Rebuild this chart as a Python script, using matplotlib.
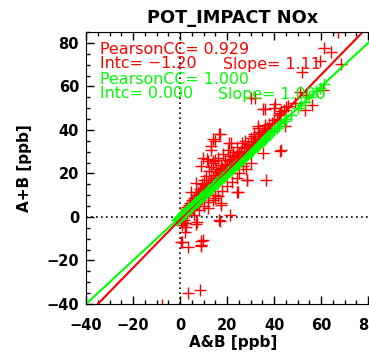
import numpy as np
import matplotlib
matplotlib.use('Agg')
import matplotlib.pyplot as plt

# red: A+B vs A&B
red_pts = [
    # outliers top right
    (67.0, 85.0), (61.3, 77.5), (64.3, 75.7), (59.7, 71.7), (68.4, 70.2),
    (52.0, 66.8), (60.9, 58.5), (51.0, 57.4), (53.6, 55.9), (55.9, 51.3),
    (53.3, 49.1), (48.8, 52.5), (42.4, 48.0), (40.3, 51.7), (36.0, 49.4),
    (30.2, 54.5), (32.0, 54.5), (40.0, 49.9), (35.3, 49.4), (44.5, 42.0),
    # upper-left scatter
    (16.6, 38.2), (16.9, 37.9), (14.0, 36.0), (14.8, 34.8), (13.0, 32.5),
    (13.3, 31.0), (20.9, 34.0), (33.2, 41.0), (34.9, 38.2), (36.2, 42.2),
    (38.2, 39.4), (33.2, 41.7), (31.5, 37.9), (21.8, 34.0), (11.6, 26.8),
    (14.8, 26.3), (9.1, 23.2), (9.8, 27.1), (11.9, 25.5), (14.0, 25.5),
    (6.8, 15.7), (4.8, 11.7), (9.8, 11.0),
    # right-hand scatter below the line
    (42.4, 30.2), (42.7, 30.6), (35.3, 29.4), (28.6, 17.1), (28.5, 17.1),
    (36.5, 17.1), (24.4, 11.4), (24.7, 11.7), (24.0, 17.9), (26.8, 23.2),
    (14.8, 8.6), (11.9, 4.0), (17.6, 6.3), (17.6, 5.5), (21.1, 0.9),
    (16.9, -1.7), (16.6, -1.4), (6.9, -3.2), (7.0, -2.2), (2.0, -2.9),
    (2.0, -2.6), (1.0, -2.2),
    # below zero
    (2.0, -6.8), (0.9, -11.4), (0.6, -11.4), (3.4, -13.7), (9.1, -10.9),
    (8.8, -13.4), (9.1, -12.9), (9.8, -10.6), (3.4, -35.0), (8.4, -33.4),
    (-7.7, -40.6),
    # main cluster
    (0.5, 0.2), (1.0, -0.5), (1.2, 1.5), (1.5, 0.8), (2.0, 2.5), (2.2, 1.0),
    (2.5, 3.8), (3.0, 2.0), (3.0, 4.5), (3.5, 3.0), (3.8, 5.5), (4.0, 2.8),
    (4.2, 6.5), (4.5, 4.0), (5.0, 5.5), (5.0, 7.8), (5.3, 3.5), (5.6, 6.2),
    (6.0, 8.5), (6.0, 4.8), (6.4, 7.0), (6.8, 10.0), (7.0, 6.0), (7.2, 8.2),
    (7.5, 11.5), (7.8, 7.0), (8.0, 9.5), (8.3, 13.0), (8.5, 8.0), (8.8, 10.5),
    (9.0, 12.0), (9.2, 15.0), (9.5, 9.0), (9.8, 11.5), (10.0, 13.5), (10.2, 17.0),
    (10.5, 10.0), (10.8, 12.5), (11.0, 14.5), (11.2, 19.0), (11.5, 11.5),
    (11.8, 13.8), (12.0, 15.5), (12.3, 21.0), (12.5, 12.0), (12.8, 14.5),
    (13.0, 17.0), (13.2, 23.0), (13.5, 13.5), (13.8, 16.0), (14.0, 18.0),
    (14.2, 25.0), (14.5, 15.0), (14.8, 17.0), (15.0, 19.5), (15.3, 22.0),
    (15.5, 16.0), (15.8, 18.0), (16.0, 20.5), (16.3, 27.0), (16.5, 17.5),
    (16.8, 19.5), (17.0, 21.5), (17.3, 24.0), (17.5, 18.0), (17.8, 20.5),
    (18.0, 22.5), (18.3, 29.0), (18.5, 19.5), (18.8, 21.5), (19.0, 23.5),
    (19.3, 26.0), (19.5, 20.5), (19.8, 22.5), (20.0, 24.5), (20.3, 31.0),
    (20.5, 21.5), (20.8, 23.5), (21.0, 25.5), (21.3, 28.0), (21.5, 22.5),
    (21.8, 24.5), (22.0, 26.5), (22.3, 30.0), (22.5, 23.5), (22.8, 25.5),
    (23.0, 27.5), (23.5, 24.5), (23.8, 26.5), (24.0, 28.5), (24.3, 32.0),
    (24.5, 25.5), (24.8, 27.5), (25.0, 29.5), (25.5, 26.5), (25.8, 28.5),
    (26.0, 30.5), (26.3, 34.0), (26.5, 27.5), (27.0, 29.5), (27.3, 31.5),
    (27.8, 35.0), (28.0, 30.0), (28.5, 32.0), (29.0, 33.5), (29.5, 30.0),
    (30.0, 33.0), (30.3, 36.5), (30.8, 32.0), (31.0, 34.5), (31.5, 37.0),
    (32.0, 35.0), (32.5, 33.0), (33.0, 36.5), (33.5, 39.0), (34.0, 37.0),
    (34.5, 35.0), (35.0, 38.5), (35.5, 40.0), (36.0, 39.0), (37.0, 41.0),
    (37.5, 39.5), (38.0, 42.5), (39.0, 43.0), (40.0, 44.5), (41.0, 45.0),
    (42.0, 47.0), (43.0, 48.5), (44.0, 49.0), (45.0, 50.5), (46.0, 51.0),
    (10.0, 5.0), (12.0, 7.0), (8.0, 3.0), (6.0, 1.0), (15.0, 10.0),
    (18.0, 12.0), (20.0, 14.0), (22.0, 16.0), (25.0, 20.0), (28.0, 22.0),
    (30.0, 25.0), (14.0, 8.0), (16.0, 9.5), (0.3, -2.0), (0.8, -3.5),
    (1.5, -1.5), (2.5, -4.5),
]
red_x = [p[0] for p in red_pts]
red_y = [p[1] for p in red_pts]

# green: A&B vs itself
green_x = [-1.5, -1.0, -0.5, 0.0, 0.3, 0.6, 1.0, 1.5, 2.0, 2.5, 3.0, 3.5,
           4.0, 4.5, 5.0, 5.5, 6.0, 6.5, 7.0, 7.5, 8.0, 8.5, 9.0, 9.5,
           10.0, 10.5, 11.0, 11.5, 12.0, 12.5, 13.0, 13.5, 14.0, 14.5,
           15.0, 15.5, 16.0, 16.5, 17.0, 17.5, 18.0, 18.5, 19.0, 19.5,
           20.0, 20.5, 21.0, 21.5, 22.0, 22.5, 23.0, 23.5, 24.0, 24.5,
           25.0, 25.5, 26.0, 26.5, 27.0, 27.5, 28.0, 28.5, 29.0, 29.5,
           30.0, 30.5, 31.0, 31.5, 32.0, 32.5, 33.0, 33.5, 34.0, 34.5,
           35.0, 35.5, 36.0, 36.5, 37.0, 37.5, 38.0, 39.0, 40.0, 41.0,
           42.0, 43.0, 44.0, 45.0, 47.0, 50.0, 51.5, 53.0, 55.0, 58.0,
           59.4, 61.0]
green_y = green_x

red_cc, red_intc, red_slope = 0.929, -1.20, 1.11
green_cc, green_intc, green_slope = 1.000, 0.000, 1.000

RED = '#ff0000'
GREEN = '#00ff00'

fig = plt.figure(figsize=(3.69, 3.53), dpi=100)
W, H = 369.0, 353.0
ax = fig.add_axes([86 / W, 1 - 304 / H, 294 / W, 272 / H])
ax.set_xlim(-40, 85)
ax.set_ylim(-40, 85)

ax.axvline(0, color='k', ls=(0, (1, 2)), lw=1.2)
ax.axhline(0, color='k', ls=(0, (1, 2)), lw=1.2)

ax.plot(red_x, red_y, '+', color=RED, ms=8, mew=1.0)
ax.plot(green_x, green_y, '+', color=GREEN, ms=8, mew=1.0)

xx = np.array([-40, 85])
ax.plot(xx, red_intc + red_slope * xx, color=RED, lw=1.5)
ax.plot(xx, green_intc + green_slope * xx, color=GREEN, lw=1.5)

ax.set_xticks([-40, -20, 0, 20, 40, 60, 80])
ax.set_yticks([-40, -20, 0, 20, 40, 60, 80])
ax.set_xticks(np.arange(-40, 86, 5), minor=True)
ax.set_yticks(np.arange(-40, 86, 5), minor=True)
ax.tick_params(which='both', direction='in', top=True, right=True, width=1)
ax.tick_params(which='major', length=6)
ax.tick_params(which='minor', length=3)
ax.tick_params(axis='x', pad=10)
ax.tick_params(axis='y', pad=5)
for lab in ax.get_xticklabels() + ax.get_yticklabels():
    lab.set_fontweight('bold')
    lab.set_fontsize(10.5)

fig.text(233 / W, 1 - 18 / H, 'POT_IMPACT NOx', ha='center', va='center',
         fontsize=12.8, fontweight='bold')
fig.text(233 / W, 1 - 343 / H, 'A&B [ppb]', ha='center', va='center',
         fontsize=11, fontweight='bold')
fig.text(25 / W, 1 - 168 / H, 'A+B [ppb]', ha='center', va='center',
         fontsize=11, fontweight='bold', rotation=90)

fs = 11.4
fig.text(100 / W, 1 - 49 / H, 'PearsonCC= %.3f' % red_cc, color=RED,
         fontsize=fs, va='center')
fig.text(100 / W, 1 - 64 / H, 'Intc= \u22121.20', color=RED,
         fontsize=fs, va='center')
fig.text(223 / W, 1 - 64 / H, 'Slope= %.2f' % red_slope, color=RED,
         fontsize=fs, va='center')
fig.text(100 / W, 1 - 79 / H, 'PearsonCC= %.3f' % green_cc, color=GREEN,
         fontsize=fs, va='center')
fig.text(100 / W, 1 - 94 / H, 'Intc= %.3f' % green_intc, color=GREEN,
         fontsize=fs, va='center')
fig.text(218 / W, 1 - 94 / H, 'Slope= %.3f' % green_slope, color=GREEN,
         fontsize=fs, va='center')

fig.savefig('out.png', dpi=100)
